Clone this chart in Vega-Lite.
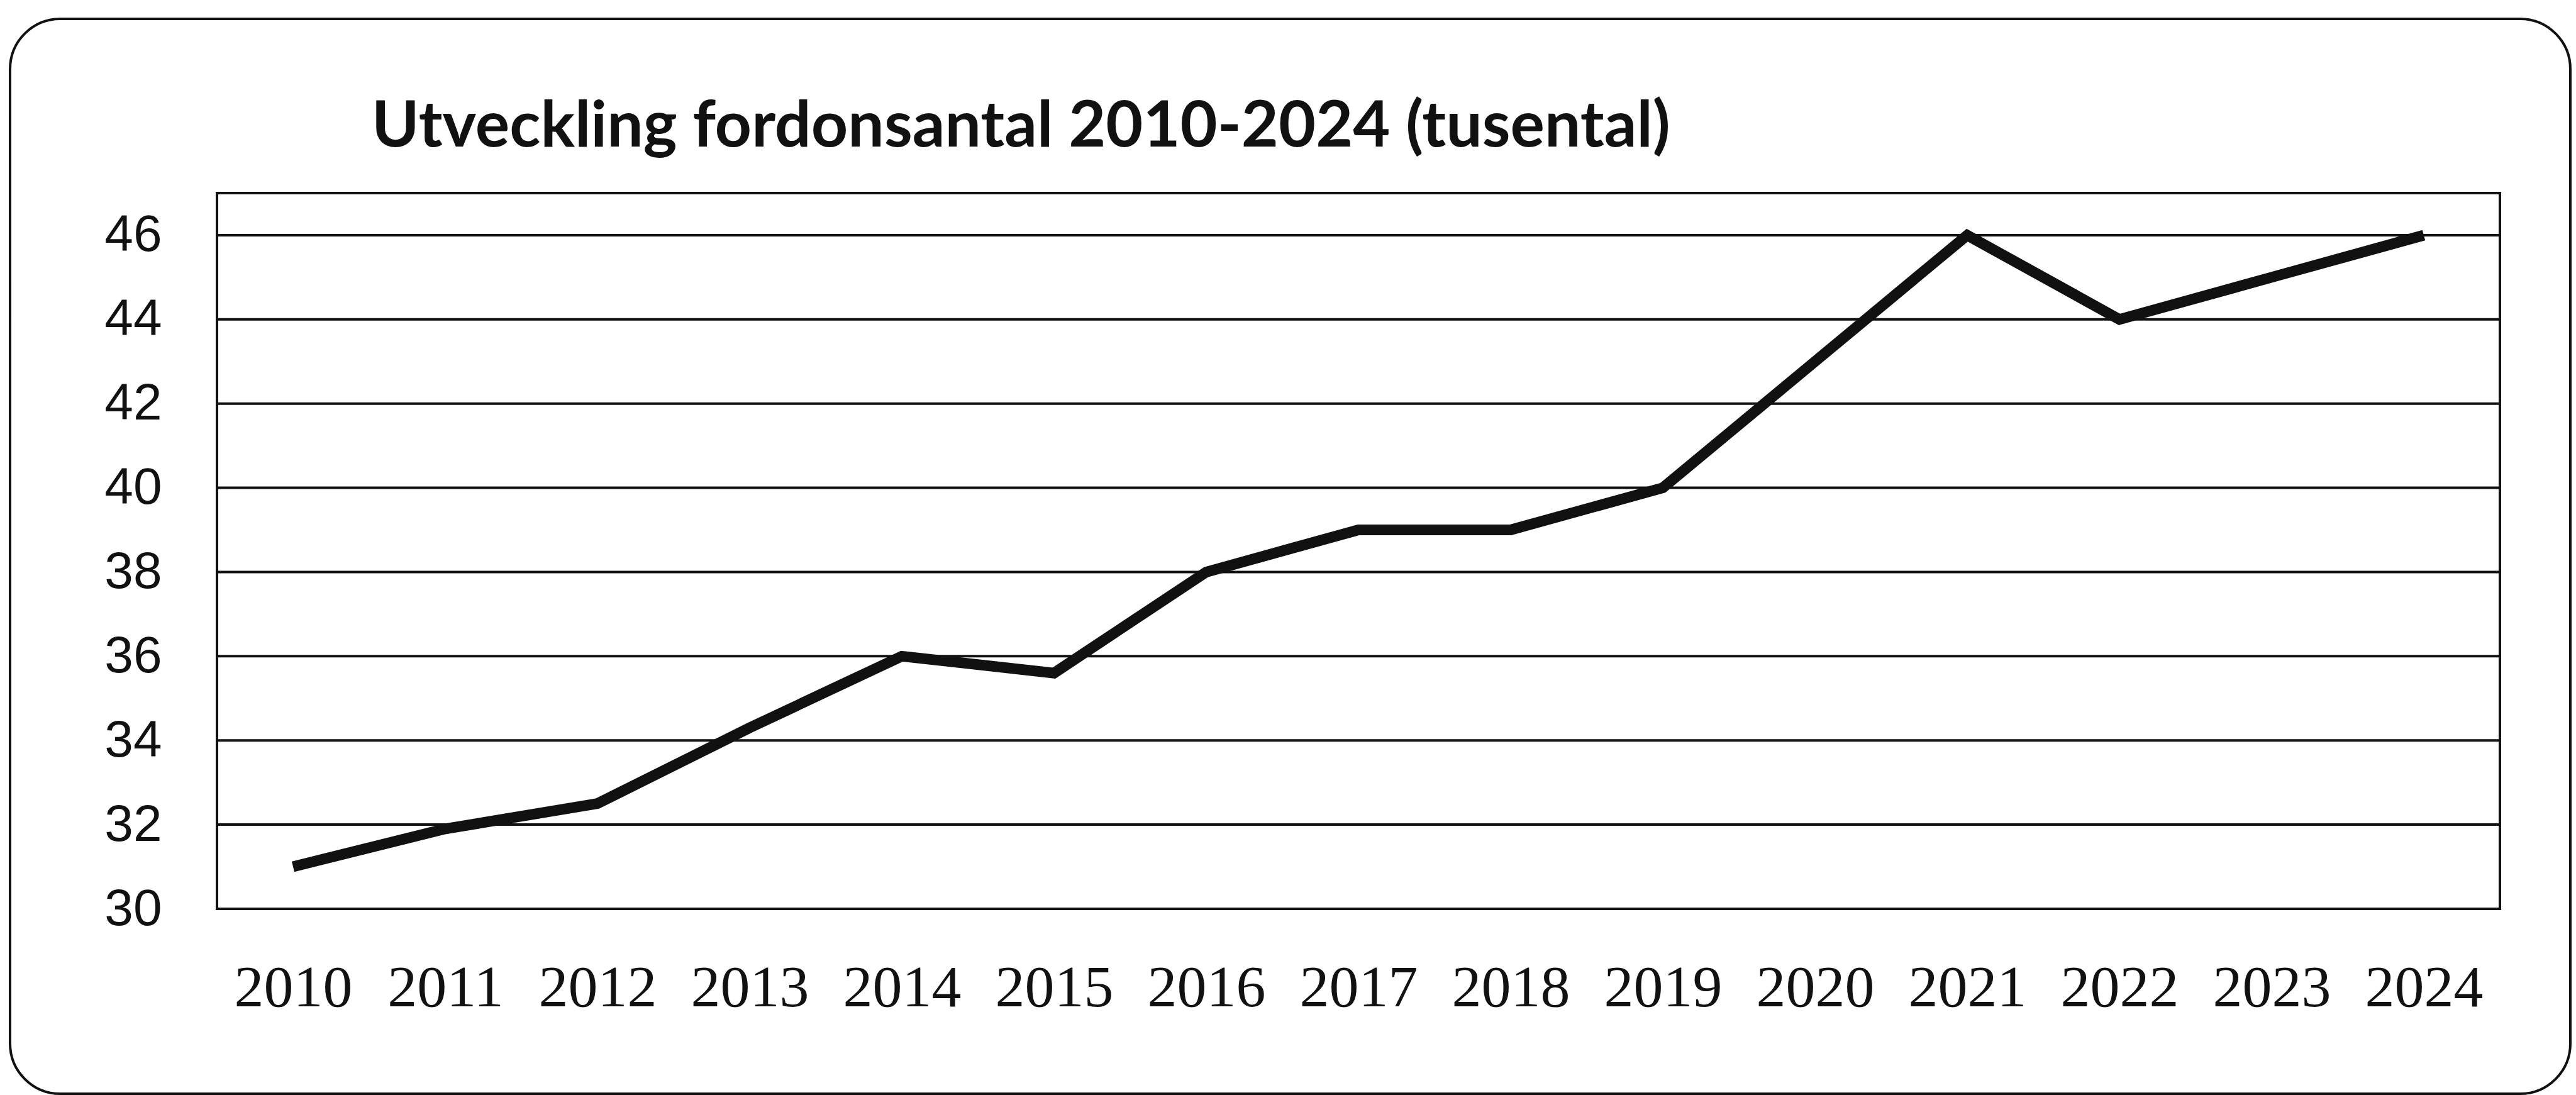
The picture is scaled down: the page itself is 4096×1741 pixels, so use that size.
{
  "$schema": "https://vega.github.io/schema/vega-lite/v6.json",
  "width": 4071,
  "height": 1709,
  "autosize": {"type": "none"},
  "padding": {"left": 16, "top": 30, "right": 9, "bottom": 2},
  "background": "white",
  "config": {
    "view": {"stroke": "#111", "strokeWidth": 4, "cornerRadius": 80, "fill": "white"}
  },
  "title": {
    "text": "Utveckling fordonsantal 2010-2024 (tusental)",
    "font": "Lato",
    "fontWeight": "bold",
    "fontSize": 102,
    "color": "#111",
    "anchor": "start",
    "frame": "group",
    "dx": 575,
    "baseline": "alphabetic",
    "offset": -305,
    "limit": 0
  },
  "layer": [
    {
      "data": {"values": [{"v": 32}, {"v": 34}, {"v": 36}, {"v": 38}, {"v": 40}, {"v": 42}, {"v": 44}, {"v": 46}]},
      "mark": {"type": "rule", "stroke": "#111", "strokeWidth": 4},
      "encoding": {
        "y": {"field": "v", "type": "quantitative", "title": null},
        "x": {"datum": 2009.5, "type": "quantitative", "title": null},
        "x2": {"datum": 2024.5}
      }
    },
    {
      "data": {"values": [{}]},
      "mark": {"type": "rect", "fill": "white", "fillOpacity": 0, "stroke": "#111", "strokeWidth": 4},
      "encoding": {
        "x": {"datum": 2009.5, "type": "quantitative", "title": null},
        "x2": {"datum": 2024.5},
        "y": {"datum": 30, "type": "quantitative", "title": null},
        "y2": {"datum": 47}
      }
    },
    {
      "data": {
        "values": [
          {"year": 2010, "antal": 31.0},
          {"year": 2011, "antal": 31.9},
          {"year": 2012, "antal": 32.5},
          {"year": 2013, "antal": 34.3},
          {"year": 2014, "antal": 36.0},
          {"year": 2015, "antal": 35.6},
          {"year": 2016, "antal": 38.0},
          {"year": 2017, "antal": 39.0},
          {"year": 2018, "antal": 39.0},
          {"year": 2019, "antal": 40.0},
          {"year": 2020, "antal": 43.0},
          {"year": 2021, "antal": 46.0},
          {"year": 2022, "antal": 44.0},
          {"year": 2023, "antal": 45.0},
          {"year": 2024, "antal": 46.0}
        ]
      },
      "mark": {"type": "line", "stroke": "#111", "strokeWidth": 17},
      "encoding": {
        "x": {
          "field": "year",
          "type": "quantitative",
          "title": null,
          "scale": {"domain": [2009.5, 2024.5], "range": [329, 3959], "nice": false, "zero": false},
          "axis": {
            "orient": "bottom",
            "offset": -294,
            "values": [2010, 2011, 2012, 2013, 2014, 2015, 2016, 2017, 2018, 2019, 2020, 2021, 2022, 2023, 2024],
            "format": "d",
            "domain": false,
            "ticks": false,
            "tickSize": 0,
            "grid": false,
            "labelFont": "Liberation Serif",
            "labelFontSize": 94,
            "labelColor": "#111",
            "labelPadding": 80,
            "labelLimit": 0,
            "labelFlush": false,
            "labelOverlap": false
          }
        },
        "y": {
          "field": "antal",
          "type": "quantitative",
          "title": null,
          "scale": {"domain": [30, 47], "range": [1415, 277], "nice": false, "zero": false},
          "axis": {
            "orient": "left",
            "offset": -329,
            "values": [30, 32, 34, 36, 38, 40, 42, 44, 46],
            "format": "d",
            "domain": false,
            "ticks": false,
            "tickSize": 0,
            "grid": false,
            "labelFont": "Liberation Sans",
            "labelFontSize": 82,
            "labelColor": "#111",
            "labelPadding": 88,
            "labelLimit": 0,
            "labelOverlap": false
          }
        }
      }
    }
  ]
}
